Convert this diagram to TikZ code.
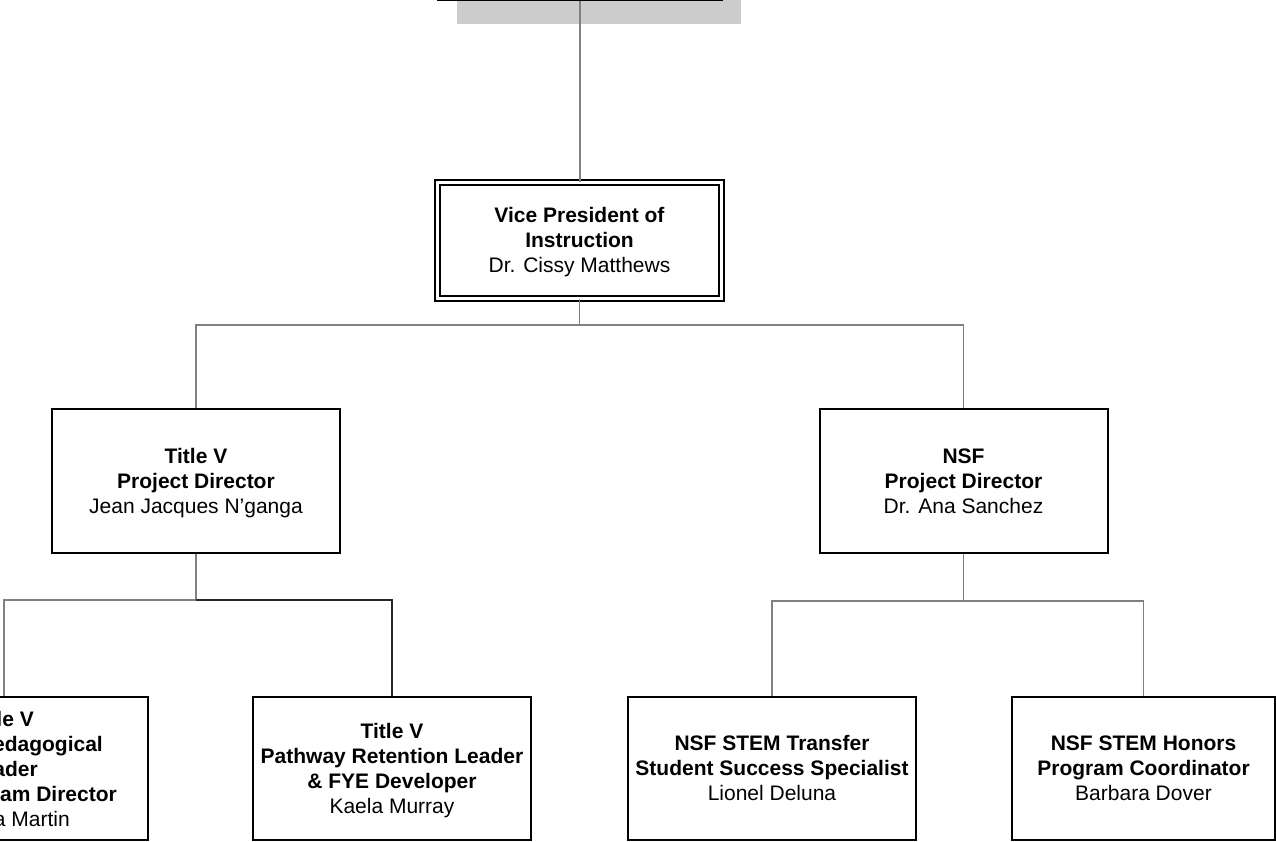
\documentclass[tikz,border=0pt]{standalone}
\usepackage{fontspec}
\setmainfont{Liberation Sans}
\usetikzlibrary{shadows}
\newcommand\tstr{\rule{0pt}{20pt}}
\newcommand\bstr{\rule[-6pt]{0pt}{6pt}}
\begin{document}
\begin{tikzpicture}[x=1pt,y=-1pt,
  box/.style={draw=black,line width=2pt,fill=white,minimum width=288pt,minimum height=144pt,inner sep=0pt,align=center,font=\fontsize{21}{25}\selectfont},
  txt/.style={inner sep=0pt,font=\fontsize{21}{25}\selectfont},
  conn/.style={draw=gray,line width=1.6pt},
  connd/.style={draw=black!85,line width=1.1pt}]
\useasboundingbox (0,0) rectangle (1276,841);
\clip (0,0) rectangle (1276,841);

% top (cut-off) box with shadow
\node[box,minimum width=284pt,minimum height=80pt,anchor=south,
  drop shadow={shadow xshift=19pt,shadow yshift=-24pt,fill=gray!40,opacity=1,draw=none}] (top) at (580,1) {};

% Vice President
\node[box,minimum width=284pt,minimum height=116pt,line width=1.6pt,double=white,double distance=3.6pt] (vp) at (579.5,240.5)
  {\tstr\textbf{Vice President of}\\\textbf{Instruction}\\Dr. Cissy Matthews\bstr};

% level 2
\node[box] (tv) at (196,481) {\tstr\textbf{Title V}\\\textbf{Project Director}\\Jean Jacques N’ganga\bstr};
\node[box] (nsf) at (963.5,481) {\tstr\textbf{NSF}\\\textbf{Project Director}\\Dr. Ana Sanchez\bstr};

% level 3
\node[box,minimum height=143pt] (ped) at (4,768.5) {};
\node[txt,align=right,anchor=east] (pedt) at (117,769)
  {\tstr\textbf{Title V}\hspace*{83pt}\mbox{}\\\textbf{Pedagogical}\hspace*{14pt}\mbox{}\\\textbf{Leader}\hspace*{79pt}\mbox{}\\\textbf{Program Director}\\a Martin\hspace*{47pt}\mbox{}\bstr};
\node[box,minimum width=278pt,minimum height=143pt] (path) at (392,768.5)
  {\tstr\textbf{Title V}\\\textbf{Pathway Retention Leader}\\\textbf{\& FYE Developer}\\Kaela Murray\bstr};
\node[box,minimum height=143pt] (trans) at (772,768.5)
  {\tstr\textbf{NSF STEM Transfer}\\\textbf{Student Success Specialist}\\Lionel Deluna\bstr};
\node[box,minimum width=263pt,minimum height=143pt] (hon) at (1143.5,768.5)
  {\tstr\textbf{NSF STEM Honors}\\\textbf{Program Coordinator}\\Barbara Dover\bstr};

% connectors
\coordinate (j0) at (580,325);
\coordinate (j1) at (196,600);
\coordinate (j2) at (963.5,601);
\draw[conn] (top.south) -- (top.south |- vp.north);
\draw[conn] (vp.south) -- (vp.south |- j0);
\draw[conn] (tv.north) -- (tv.north |- j0) -- (nsf.north |- j0) -- (nsf.north);
\draw[conn] (tv.south) -- (j1);
\draw[conn] (ped.north) -- (ped.north |- j1) -- (j1);
\draw[connd] (j1) -- (path.north |- j1) -- (path.north);
\draw[conn] (nsf.south) -- (j2);
\draw[conn] (trans.north) -- (trans.north |- j2) -- (hon.north |- j2) -- (hon.north);
\end{tikzpicture}
\end{document}
